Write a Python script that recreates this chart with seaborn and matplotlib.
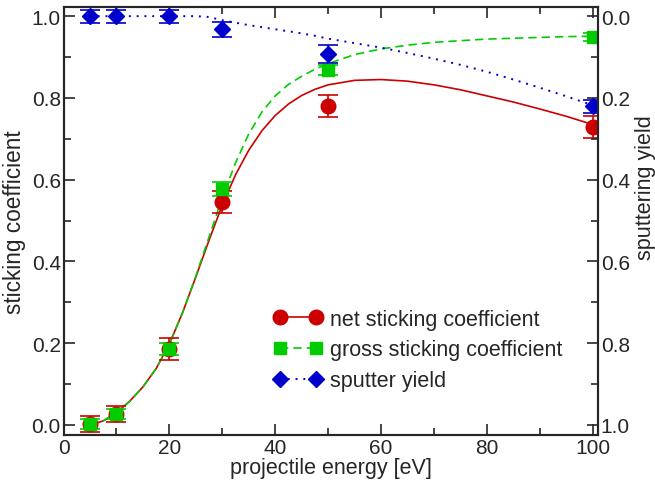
import numpy as np
import pandas as pd
import seaborn as sns
import matplotlib
matplotlib.use("Agg")
import matplotlib.pyplot as plt
from matplotlib.lines import Line2D
from matplotlib.ticker import MultipleLocator

# measured points
energy = [5, 10, 20, 30, 50, 100]
net_stick = [0.003, 0.027, 0.186, 0.545, 0.780, 0.729]
net_err = [0.020, 0.020, 0.026, 0.027, 0.027, 0.027]
gross_stick = [0.003, 0.027, 0.186, 0.577, 0.868, 0.950]
gross_err = [0.012, 0.012, 0.014, 0.017, 0.012, 0.010]
sputter = [0.0, 0.0, 0.0, 0.032, 0.093, 0.220]
sputter_err = [0.016, 0.016, 0.016, 0.018, 0.022, 0.016]

# fitted curves
fit_e = [5, 7.5, 10, 12.5, 15, 17.5, 20, 22.5, 25, 27.5, 30, 32.5, 35, 37.5,
         40, 42.5, 45, 47.5, 50, 55, 60, 65, 70, 75, 80, 85, 90, 95, 100]
fit_net = [0.0, 0.01, 0.03, 0.058, 0.093, 0.138, 0.198, 0.275, 0.362, 0.452, 0.538,
           0.612, 0.672, 0.72, 0.757, 0.785, 0.806, 0.821, 0.832, 0.843, 0.845,
           0.841, 0.832, 0.82, 0.805, 0.79, 0.773, 0.755, 0.735]
fit_gross = [0.0, 0.01, 0.03, 0.058, 0.093, 0.138, 0.198, 0.275, 0.364, 0.46, 0.556,
             0.641, 0.712, 0.766, 0.805, 0.833, 0.853, 0.87, 0.884, 0.906, 0.92,
             0.929, 0.936, 0.94, 0.944, 0.946, 0.948, 0.95, 0.951]
fit_sputter = [0.0, 0.0, 0.0, 0.0, 0.0, 0.0, 0.0, 0.0, 0.0, 0.002, 0.01,
               0.016, 0.022, 0.027, 0.032, 0.037, 0.042, 0.048, 0.055, 0.066,
               0.077, 0.09, 0.104, 0.119, 0.136, 0.155, 0.175, 0.196, 0.218]

red = "#cc0000"
green = "#00cc00"
blue = "#0000cc"

sns.set_style("ticks")
plt.rcParams['font.family'] = ['Liberation Sans', 'DejaVu Sans']

fig = plt.figure(figsize=(6.55, 4.81), dpi=100)
ax = fig.add_axes([0.097, 0.094, 0.816, 0.889])
ax2 = ax.twinx()

fits = pd.DataFrame({"e": fit_e, "net": fit_net, "gross": fit_gross,
                     "sputter": fit_sputter})

sns.lineplot(data=fits, x="e", y="net", ax=ax, color=red, lw=1.2)
sns.lineplot(data=fits, x="e", y="gross", ax=ax, color=green, lw=1.2,
             linestyle=(0, (5, 3)))
sns.lineplot(data=fits, x="e", y="sputter", ax=ax2, color=blue, lw=1.4,
             linestyle=(0, (1, 3)))

ax.errorbar(energy, net_stick, yerr=net_err, fmt="o", color=red, ms=10.5,
            capsize=7, elinewidth=1.2, capthick=1.2)
ax.errorbar(energy, gross_stick, yerr=gross_err, fmt="s", color=green, ms=9,
            capsize=7, elinewidth=1.2, capthick=1.2)
ax2.errorbar(energy, sputter, yerr=sputter_err, fmt="D", color=blue, ms=8,
             capsize=7, elinewidth=1.2, capthick=1.2)

ax.set_xlim(0, 101)
ax.set_ylim(-0.024, 1.022)
ax2.set_ylim(1.024, -0.022)

ax.xaxis.set_major_locator(MultipleLocator(20))
ax.xaxis.set_minor_locator(MultipleLocator(10))
ax.yaxis.set_major_locator(MultipleLocator(0.2))
ax.yaxis.set_minor_locator(MultipleLocator(0.1))
ax2.yaxis.set_major_locator(MultipleLocator(0.2))
ax2.yaxis.set_minor_locator(MultipleLocator(0.1))
ax.yaxis.set_major_formatter(lambda v, p: f"{v:.1f}")
ax2.yaxis.set_major_formatter(lambda v, p: f"{v:.1f}")

ax.tick_params(which="both", direction="in", top=True, labelsize=15, width=1.2, pad=2)
ax.tick_params(which="major", length=8)
ax.tick_params(which="minor", length=5)
ax2.tick_params(which="both", direction="in", labelsize=15, width=1.2, pad=2)
ax2.tick_params(which="major", length=8)
ax2.tick_params(which="minor", length=5)
for a in (ax, ax2):
    for s in a.spines.values():
        s.set_linewidth(1.5)

ax.set_xlabel("projectile energy [eV]", fontsize=15.5, labelpad=0)
ax.set_ylabel("sticking coefficient", fontsize=16.3, labelpad=4)
ax2.set_ylabel("sputtering yield", fontsize=15.5)
ax2.yaxis.set_label_coords(1.07, 0.58)

handles = [
    Line2D([], [], color=red, marker="o", ms=10.5, lw=1.2),
    Line2D([], [], color=green, marker="s", ms=9, lw=1.2, linestyle=(0, (5, 3))),
    Line2D([], [], color=blue, marker="D", ms=8, lw=1.4, linestyle=(0, (1, 3))),
]
labels = ["net sticking coefficient", "gross sticking coefficient", "sputter yield"]
ax.legend(handles, labels, numpoints=2, frameon=False, fontsize=15.5,
          loc="lower right", bbox_to_anchor=(0.97, 0.057), handlelength=2.3,
          handletextpad=0.35, labelspacing=0.45)

fig.savefig("out.png", dpi=100)
